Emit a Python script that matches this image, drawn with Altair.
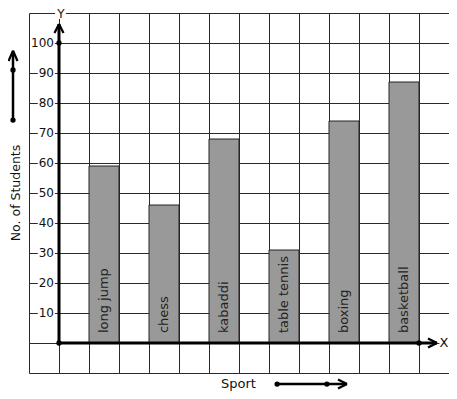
import altair as alt
import pandas as pd

# ---- data ----
sports = ["long jump", "chess", "kabaddi", "table tennis", "boxing", "basketball"]
students = [59, 46, 68, 31, 74, 87]
bar_start = [1, 3, 5, 7, 9, 11]          # column index on the grid
y_ticks = [10, 20, 30, 40, 50, 60, 70, 80, 90, 100]

FONT = "DejaVu Sans"
GRID = "#2a2a2a"

xscale = alt.Scale(domain=[-1, 13], nice=False, zero=False)
yscale = alt.Scale(domain=[-10, 110], nice=False, zero=False)
xaxis = alt.Axis(values=list(range(-1, 14)), grid=True, labels=False, ticks=False,
                 domain=False, title=None, gridColor=GRID, gridOpacity=1, gridWidth=1)
yaxis = alt.Axis(values=list(range(-10, 111, 10)), grid=True, labels=False, ticks=False,
                 domain=False, title=None, gridColor=GRID, gridOpacity=1, gridWidth=1)


def X(f):
    return alt.X(f, type="quantitative", scale=xscale, axis=xaxis)


def Y(f):
    return alt.Y(f, type="quantitative", scale=yscale, axis=yaxis)


bars_df = pd.DataFrame({
    "sport": sports,
    "value": students,
    "x0": bar_start,
    "x1": [b + 1 for b in bar_start],
    "xc": [b + 0.5 for b in bar_start],
    "zero": [0] * len(sports),
    "lab_y": [3.3] * len(sports),
})

bars = alt.Chart(bars_df).mark_rect(fill="#999999", stroke="#222222", strokeWidth=1).encode(
    x=X("x0"), x2="x1", y=Y("zero"), y2="value"
)

bar_labels = alt.Chart(bars_df).mark_text(
    angle=270, align="left", baseline="middle", font=FONT, fontSize=13, color="#222222"
).encode(x=X("xc"), y=Y("lab_y"), text="sport")

# y tick labels with white backgrounds
lab_right = -0.167
ylab_df = pd.DataFrame({
    "v": y_ticks,
    "label": [str(t) for t in y_ticks],
    "xr": [lab_right] * len(y_ticks),
    "bl": [lab_right - len(str(t)) * 0.255 - 0.03 for t in y_ticks],
    "br": [lab_right + 0.03] * len(y_ticks),
    "b0": [t - 2.0 for t in y_ticks],
    "b1": [t + 2.0 for t in y_ticks],
})
ylab_bg = alt.Chart(ylab_df).mark_rect(fill="white").encode(
    x=X("bl"), x2="br", y=Y("b0"), y2="b1")
ylab = alt.Chart(ylab_df).mark_text(
    align="right", baseline="middle", font=FONT, fontSize=12, color="#111111"
).encode(x=X("xr"), y=Y("v"), text="label")

# backgrounds for X / Y letters
bg_df = pd.DataFrame({
    "x0": [-0.13, 12.68], "x1": [0.23, 13.2],
    "y0": [108.0, -1.8], "y1": [112.5, 1.8],
})
letter_bg = alt.Chart(bg_df).mark_rect(fill="white").encode(
    x=X("x0"), x2="x1", y=Y("y0"), y2="y1")

y_letter = alt.Chart(pd.DataFrame({"t": ["Y"], "x": [0.067], "y": [111.4]})).mark_text(
    align="center", baseline="top", font=FONT, fontSize=12, color="#111111"
).encode(x=X("x"), y=Y("y"), text="t")

x_letter = alt.Chart(pd.DataFrame({"t": ["X"], "x": [12.83], "y": [0]})).mark_text(
    align="center", baseline="middle", font=FONT, fontSize=13, color="#111111"
).encode(x=X("x"), y=Y("y"), text="t")

AX = -1.533   # x of the left decorative arrow (grid units)
BY = -13.7    # y of the bottom decorative arrow / "Sport" (grid units)

# lines: axes, arrows and chevrons
lines_df = pd.DataFrame([
    # main axes
    dict(x=0, y=0, x2=0, y2=106.3, w=3),
    dict(x=0, y=0, x2=12.6, y2=0, w=3),
    # y axis chevron
    dict(x=-0.15, y=103.3, x2=0, y2=106.3, w=2.2),
    dict(x=0.15, y=103.3, x2=0, y2=106.3, w=2.2),
    # x axis chevron
    dict(x=12.3, y=1.5, x2=12.6, y2=0, w=2.2),
    dict(x=12.3, y=-1.5, x2=12.6, y2=0, w=2.2),
    # left side arrow
    dict(x=AX, y=74.3, x2=AX, y2=97.4, w=2.5),
    dict(x=AX - 0.15, y=94.0, x2=AX, y2=97.4, w=2.2),
    dict(x=AX + 0.15, y=94.0, x2=AX, y2=97.4, w=2.2),
    # bottom arrow
    dict(x=7.27, y=BY, x2=9.6, y2=BY, w=2.5),
    dict(x=9.3, y=BY + 1.5, x2=9.6, y2=BY, w=2.2),
    dict(x=9.3, y=BY - 1.5, x2=9.6, y2=BY, w=2.2),
])
lines = alt.Chart(lines_df).mark_rule(color="black").encode(
    x=X("x"), y=Y("y"), x2="x2", y2="y2",
    strokeWidth=alt.StrokeWidth("w:Q", scale=None, legend=None))

dots_df = pd.DataFrame({
    "x": [0, 0, 12, AX, AX, 7.27, 8.93],
    "y": [0, 100, 0, 91, 74.3, BY, BY],
})
dots = alt.Chart(dots_df).mark_point(filled=True, color="black", opacity=1, size=28).encode(
    x=X("x"), y=Y("y"))

titles_df = pd.DataFrame({"t": ["Sport"], "x": [5.98], "y": [BY]})
xtitle = alt.Chart(titles_df).mark_text(
    align="center", baseline="middle", font=FONT, fontSize=13, color="#111111"
).encode(x=X("x"), y=Y("y"), text="t")

ytitle_df = pd.DataFrame({"t": ["No. of Students"], "x": [-1.45], "y": [50]})
ytitle = alt.Chart(ytitle_df).mark_text(
    angle=270, align="center", baseline="middle", font=FONT, fontSize=12.5, color="#111111"
).encode(x=X("x"), y=Y("y"), text="t")

chart = alt.layer(
    bars, bar_labels, ylab_bg, ylab, letter_bg, y_letter, x_letter, lines, dots, xtitle, ytitle
).properties(
    width=420, height=360,
    autosize=alt.AutoSizeParams(type="none"),
    padding={"left": 21, "top": 5, "right": 0, "bottom": 18},
    background="white",
).configure_view(stroke=None)

chart.save("out.html", embed_options={"renderer": "svg", "actions": False})
